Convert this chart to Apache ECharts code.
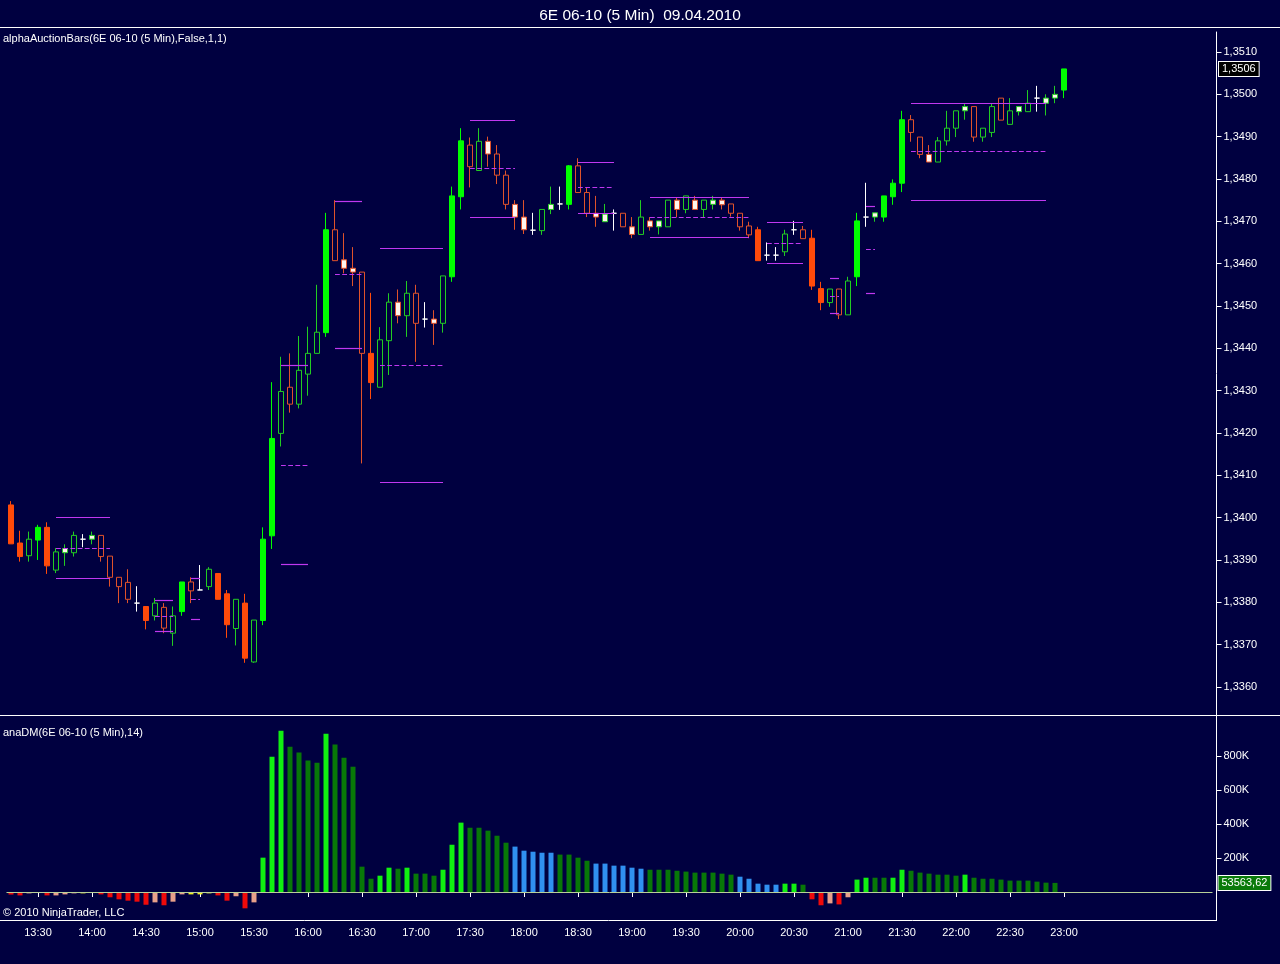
<!DOCTYPE html>
<html>
<head>
<meta charset="utf-8">
<script src="https://cdn.jsdelivr.net/npm/echarts@6/dist/echarts.min.js"></script>
<style>
  html, body { margin: 0; padding: 0; background: #000040; }
  #chart { width: 1280px; height: 964px; }
</style>
</head>
<body>
<div id="chart"></div>
<script>
// 6E 06-10 (5 Min) 09.04.2010, first bar 13:15
let open = [1.34030,1.33940,1.33910,1.33947,1.33977,1.33876,1.33917,1.33917,1.33949,1.33949,
  1.33958,1.33909,1.33859,1.33847,1.33798,1.33790,1.33768,1.33788,1.33727,1.33778,
  1.33848,1.33829,1.33837,1.33868,1.33820,1.33738,1.33798,1.33659,1.33757,1.33957,
  1.34199,1.34308,1.34268,1.34339,1.34388,1.34437,1.34680,1.34609,1.34589,1.34580,
  1.34388,1.34308,1.34418,1.34509,1.34477,1.34530,1.34469,1.34469,1.34459,1.34569,
  1.34758,1.34880,1.34820,1.34889,1.34859,1.34809,1.34740,1.34710,1.34679,1.34678,
  1.34728,1.34741,1.34740,1.34831,1.34768,1.34719,1.34699,1.34719,1.34719,1.34687,
  1.34669,1.34701,1.34687,1.34687,1.34750,1.34728,1.34750,1.34728,1.34740,1.34750,
  1.34741,1.34719,1.34689,1.34680,1.34620,1.34620,1.34628,1.34680,1.34680,1.34660,
  1.34541,1.34508,1.34540,1.34479,1.34569,1.34710,1.34710,1.34710,1.34758,1.34790,
  1.34940,1.34899,1.34858,1.34840,1.34890,1.34920,1.34961,1.34971,1.34899,1.34910,
  1.34991,1.34929,1.34959,1.34959,1.34991,1.34979,1.34991,1.35010];
let high = [1.34039,1.33969,1.33967,1.33983,1.33989,1.33928,1.33937,1.33967,1.33961,1.33967,
  1.33958,1.33909,1.33859,1.33878,1.33838,1.33790,1.33810,1.33798,1.33790,1.33848,
  1.33859,1.33888,1.33883,1.33868,1.33829,1.33807,1.33820,1.33758,1.33977,1.34320,
  1.34380,1.34388,1.34429,1.34451,1.34550,1.34720,1.34750,1.34672,1.34639,1.34580,
  1.34531,1.34450,1.34530,1.34539,1.34559,1.34550,1.34509,1.34490,1.34571,1.34782,
  1.34920,1.34898,1.34920,1.34900,1.34880,1.34820,1.34750,1.34750,1.34720,1.34728,
  1.34782,1.34782,1.34833,1.34849,1.34780,1.34760,1.34741,1.34728,1.34719,1.34710,
  1.34750,1.34710,1.34701,1.34750,1.34757,1.34760,1.34760,1.34750,1.34760,1.34757,
  1.34741,1.34719,1.34699,1.34687,1.34650,1.34639,1.34680,1.34701,1.34689,1.34680,
  1.34557,1.34540,1.34540,1.34569,1.34720,1.34791,1.34720,1.34760,1.34799,1.34961,
  1.34951,1.34899,1.34880,1.34899,1.34961,1.34961,1.34979,1.34971,1.34920,1.34979,
  1.34991,1.34991,1.34971,1.35010,1.35020,1.35000,1.35020,1.35060];
let low = [1.33938,1.33896,1.33896,1.33900,1.33867,1.33869,1.33886,1.33908,1.33930,1.33937,
  1.33896,1.33837,1.33798,1.33798,1.33778,1.33736,1.33757,1.33727,1.33697,1.33768,
  1.33798,1.33829,1.33829,1.33807,1.33716,1.33698,1.33657,1.33657,1.33746,1.33926,
  1.34168,1.34248,1.34258,1.34288,1.34388,1.34427,1.34607,1.34577,1.34547,1.34128,
  1.34280,1.34308,1.34337,1.34459,1.34427,1.34368,1.34449,1.34408,1.34437,1.34557,
  1.34728,1.34780,1.34820,1.34829,1.34788,1.34728,1.34680,1.34670,1.34668,1.34668,
  1.34717,1.34727,1.34728,1.34768,1.34710,1.34687,1.34699,1.34678,1.34687,1.34660,
  1.34669,1.34678,1.34669,1.34687,1.34710,1.34719,1.34728,1.34710,1.34728,1.34728,
  1.34711,1.34678,1.34660,1.34607,1.34607,1.34607,1.34618,1.34668,1.34659,1.34538,
  1.34490,1.34498,1.34469,1.34479,1.34547,1.34687,1.34699,1.34699,1.34739,1.34769,
  1.34888,1.34849,1.34840,1.34840,1.34879,1.34899,1.34940,1.34888,1.34888,1.34899,
  1.34939,1.34929,1.34950,1.34959,1.34959,1.34950,1.34979,1.34991];
let close = [1.33938,1.33908,1.33949,1.33977,1.33886,1.33919,1.33927,1.33958,1.33949,1.33958,
  1.33908,1.33859,1.33837,1.33807,1.33798,1.33757,1.33798,1.33739,1.33768,1.33848,
  1.33827,1.33829,1.33878,1.33807,1.33747,1.33807,1.33668,1.33758,1.33949,1.34187,
  1.34298,1.34268,1.34348,1.34388,1.34438,1.34680,1.34607,1.34589,1.34580,1.34388,
  1.34319,1.34420,1.34509,1.34477,1.34530,1.34459,1.34469,1.34459,1.34571,1.34760,
  1.34890,1.34829,1.34889,1.34859,1.34809,1.34740,1.34710,1.34680,1.34679,1.34728,
  1.34740,1.34741,1.34831,1.34768,1.34719,1.34710,1.34717,1.34719,1.34687,1.34669,
  1.34710,1.34687,1.34701,1.34750,1.34728,1.34760,1.34728,1.34750,1.34750,1.34739,
  1.34719,1.34687,1.34668,1.34607,1.34620,1.34620,1.34670,1.34680,1.34659,1.34547,
  1.34508,1.34540,1.34479,1.34559,1.34701,1.34710,1.34720,1.34760,1.34790,1.34940,
  1.34910,1.34858,1.34840,1.34890,1.34920,1.34961,1.34971,1.34899,1.34920,1.34971,
  1.34939,1.34961,1.34971,1.34979,1.34991,1.34991,1.35000,1.35060];
// auction bar type: T trend, N normal, B balance
let barType = ['T','T','N','T','T','N','B','N','B','B','N','N','N','N','B','T','N','N','N','T',
  'N','B','N','T','T','N','T','N','T','T','N','N','N','N','N','T','N','B','B','N',
  'T','N','N','B','N','N','B','B','N','T','T','N','N','B','N','N','B','B','B','N',
  'B','B','T','N','N','B','B','B','N','B','N','B','B','N','B','N','B','N','B','B',
  'N','N','N','T','B','B','N','B','N','T','T','N','N','N','T','B','B','T','T','T',
  'N','N','B','N','N','N','B','N','N','N','N','N','B','N','B','B','B','T'];

// auction levels: bar index range, upper / mid / lower
let lvlFrom = [5, 16, 20, 30, 36, 41, 51, 63, 71, 84, 91, 95, 100];
let lvlTo   = [11, 18, 21, 33, 39, 48, 56, 67, 82, 88, 92, 96, 115];
let lvlHigh = [1.34001,1.33805,1.33857,1.34359,1.34748,1.34636,1.34939,1.34840,1.34757,1.34698,1.34565,1.34735,1.34979];
let lvlMid  = [1.33927,1.33766,1.33807,1.34124,1.34575,1.34360,1.34825,1.34780,1.34710,1.34648,1.34522,1.34634,1.34865];
let lvlLow  = [1.33857,1.33731,1.33760,1.33890,1.34400,1.34083,1.34710,1.34720,1.34662,1.34601,1.34483,1.34531,1.34749];

// anaDM histogram and its state
let dmValues = [-15000,-20000,-8000,-2000,-20000,-20000,-14000,-8000,-8000,-3000,
  -14000,-31000,-43000,-51000,-57000,-75000,-61000,-78000,-57000,-14000,
  -14000,-14000,-8000,-20000,-51000,-25000,-96000,-61000,202000,796000,
  949000,855000,820000,773000,761000,931000,867000,790000,737000,149000,
  78000,96000,143000,137000,143000,108000,108000,96000,131000,278000,
  408000,378000,378000,361000,331000,290000,267000,243000,237000,231000,
  231000,220000,220000,202000,184000,167000,167000,155000,155000,143000,
  137000,131000,131000,131000,125000,120000,114000,114000,114000,108000,
  102000,90000,78000,49000,43000,43000,49000,49000,43000,-43000,
  -78000,-67000,-73000,-31000,73000,84000,84000,84000,84000,131000,
  125000,114000,108000,102000,102000,96000,102000,84000,78000,78000,
  73000,67000,67000,67000,61000,55000,53563.62];
let dmState = ['D','D','d','z','D','d','d','d','z','z','D','D','D','D','D','D','d','D','d','d',
  'z','z','z','D','D','d','D','d','U','U','U','u','u','u','u','U','u','u','u','u',
  'u','U','U','u','U','u','u','u','U','U','U','u','u','u','u','u','n','n','n','n',
  'n','u','u','u','u','n','n','n','n','n','n','u','u','u','u','u','u','u','u','u',
  'u','n','n','n','n','n','U','U','u','D','D','d','D','d','U','U','u','u','U','U',
  'u','u','u','u','u','u','U','u','u','u','u','u','u','u','u','u','u'];

let priceTicks = [1.3360,1.3370,1.3380,1.3390,1.3400,1.3410,1.3420,1.3430,1.3440,1.3450,1.3460,1.3470,1.3480,1.3490,1.3500,1.3510];
let dmTicks = [200000, 400000, 600000, 800000];
let timeTicks = ['13:30','14:00','14:30','15:00','15:30','16:00','16:30','17:00','17:30','18:00','18:30','19:00','19:30','20:00','20:30','21:00','21:30','22:00','22:30','23:00'];

let BG = '#000040';
let times = [];
for (let i = 0; i < 134; i++) {
  let m = 13 * 60 + 15 + 5 * i;
  times.push(String(Math.floor(m / 60) % 24).padStart(2, '0') + ':' + String(m % 60).padStart(2, '0'));
}

let candleData = open.map(function (o, i) {
  let c = close[i];
  let up = c > o;
  let fill, border;
  if (c === o) {
    fill = '#ffffff'; border = '#ffffff';
  } else if (barType[i] === 'T') {
    fill = up ? '#00ff00' : '#ff4a0a'; border = fill;
  } else if (barType[i] === 'N') {
    fill = BG; border = up ? '#22cc22' : '#e0522a';
  } else {
    fill = '#fff4ee'; border = up ? '#22cc22' : '#e0522a';
  }
  return {
    value: [o, c, low[i], high[i]],
    itemStyle: { color: fill, color0: fill, borderColor: border, borderColor0: border, borderColorDoji: border }
  };
});

let dmColors = { U: '#11f011', u: '#087808', n: '#3090f0', D: '#ee0a0a', d: '#e8a08a', z: '#f0f020' };
let dmData = dmValues.map(function (v, i) {
  return { value: v, itemStyle: { color: dmColors[dmState[i]] } };
});

let levelLines = [];
lvlFrom.forEach(function (f, k) {
  [[lvlHigh[k], 'solid'], [lvlMid[k], 'dashed'], [lvlLow[k], 'solid']].forEach(function (p) {
    levelLines.push([
      { coord: [times[f], p[0]], lineStyle: { type: p[1] } },
      { coord: [times[lvlTo[k]], p[0]] }
    ]);
  });
});

let lastPrice = close[close.length - 1];
let lastDm = dmValues[dmValues.length - 1];

// invisible line across the panel at the last price, carrying the value tag
levelLines.push([
  {
    coord: [times[0], lastPrice],
    lineStyle: { color: 'rgba(0,0,0,0)', width: 1, type: 'solid' },
    label: {
      show: true, position: 'end', distance: 11,
      formatter: function () { return lastPrice.toFixed(4).replace('.', ','); },
      color: '#ffffff', fontSize: 11, backgroundColor: '#000000',
      borderColor: '#ffffff', borderWidth: 1, padding: [2, 3, 1, 3]
    }
  },
  { coord: [times[times.length - 1], lastPrice] }
]);

function showTime(idx, val) {
  return idx < open.length && timeTicks.indexOf(val) >= 0;
}

let chart = echarts.init(document.getElementById('chart'));
let option = {
  backgroundColor: BG,
  animation: false,
  textStyle: { fontFamily: 'Liberation Sans' },
  title: {
    text: '6E 06-10 (5 Min)  09.04.2010',
    left: 'center',
    top: 3,
    textStyle: { color: '#ffffff', fontSize: 15.5, fontWeight: 'normal', fontFamily: 'Liberation Sans' }
  },
  graphic: [
    { type: 'line', shape: { x1: 0, y1: 27.5, x2: 1280, y2: 27.5 }, style: { stroke: '#ffffff', lineWidth: 1 } },
    { type: 'line', shape: { x1: 0, y1: 715.5, x2: 1280, y2: 715.5 }, style: { stroke: '#ffffff', lineWidth: 1 } },
    { type: 'line', shape: { x1: 0, y1: 920.5, x2: 1217, y2: 920.5 }, style: { stroke: '#ffffff', lineWidth: 1 } },
    { type: 'text', left: 3, top: 33, style: { text: 'alphaAuctionBars(6E 06-10 (5 Min),False,1,1)', fill: '#ffffff', font: '11px "Liberation Sans"' } },
    { type: 'text', left: 3, top: 727, style: { text: 'anaDM(6E 06-10 (5 Min),14)', fill: '#ffffff', font: '11px "Liberation Sans"' } },
    { type: 'text', left: 3, top: 907, style: { text: '© 2010 NinjaTrader, LLC', fill: '#ffffff', font: '11px "Liberation Sans"' } }
  ],
  grid: [
    { left: 6.5, right: 67.5, top: 32, height: 683 },
    { left: 6.5, right: 67.5, top: 716, height: 204 }
  ],
  xAxis: [
    { type: 'category', gridIndex: 0, data: times, show: false },
    {
      type: 'category', gridIndex: 1, data: times,
      axisLine: { show: false },
      axisTick: { show: true, alignWithLabel: true, interval: showTime, length: 5, lineStyle: { color: '#ffffff' } },
      axisLabel: { interval: showTime, color: '#ffffff', fontSize: 11, margin: 7 },
      splitLine: { show: false }
    }
  ],
  yAxis: [
    {
      type: 'value', gridIndex: 0, position: 'right', offset: 4,
      min: 1.335337, max: 1.351472,
      axisLine: { show: true, lineStyle: { color: '#ffffff' } },
      axisTick: { show: true, customValues: priceTicks, length: 5, lineStyle: { color: '#ffffff' } },
      axisLabel: {
        customValues: priceTicks, color: '#ffffff', fontSize: 11, margin: 7,
        formatter: function (v) { return v.toFixed(4).replace('.', ','); }
      },
      splitLine: { show: false }
    },
    {
      type: 'value', gridIndex: 1, position: 'right', offset: 4,
      min: -164706, max: 1035294,
      axisLine: { show: true, lineStyle: { color: '#ffffff' } },
      axisTick: { show: true, customValues: dmTicks, length: 5, lineStyle: { color: '#ffffff' } },
      axisLabel: {
        customValues: dmTicks, color: '#ffffff', fontSize: 11, margin: 7,
        formatter: function (v) { return Math.round(v / 1000) + 'K'; }
      },
      splitLine: { show: false }
    }
  ],
  series: [
    {
      type: 'candlestick',
      xAxisIndex: 0, yAxisIndex: 0,
      barWidth: 5,
      clip: false,
      data: candleData,
      markLine: {
        silent: true,
        symbol: ['none', 'none'],
        label: { show: false },
        lineStyle: { color: '#c038f0', width: 1.2 },
        data: levelLines
      }
    },
    {
      type: 'bar',
      xAxisIndex: 1, yAxisIndex: 1,
      barWidth: 5,
      clip: false,
      data: dmData,
      markLine: {
        silent: true,
        symbol: ['none', 'none'],
        label: { show: false },
        data: [
          { yAxis: 0, lineStyle: { color: '#b8d098', width: 1, type: 'solid' } },
          {
            yAxis: lastDm,
            lineStyle: { color: 'rgba(0,0,0,0)', width: 1, type: 'solid' },
            label: {
              show: true, position: 'end', distance: 6,
              formatter: function () { return lastDm.toFixed(2).replace('.', ','); },
              color: '#ffffff', fontSize: 11, backgroundColor: '#0a7a0a',
              borderColor: '#ffffff', borderWidth: 1, padding: [2, 3, 1, 3]
            }
          }
        ]
      }
    }
  ]
};
chart.setOption(option);
</script>
</body>
</html>
